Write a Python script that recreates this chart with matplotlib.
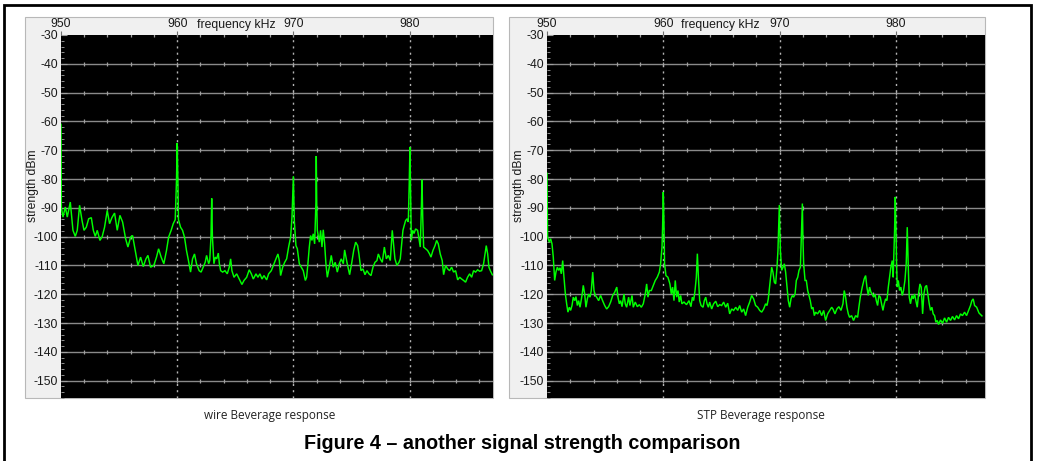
import matplotlib
matplotlib.use("Agg")
import matplotlib.pyplot as plt
from matplotlib.patches import Rectangle

W, H = 1038, 461
DPI = 100

# ---------------- data ----------------
freq_ticks = [950, 960, 970, 980]
dbm_ticks = [-30, -40, -50, -60, -70, -80, -90, -100, -110, -120, -130, -140, -150]

wire_freq = [
    950.00, 950.03, 950.17, 950.37, 950.54, 950.80, 951.03, 951.23, 951.40, 951.60,
    951.81, 951.98, 952.18, 952.38, 952.61, 952.78, 952.95, 953.12, 953.35, 953.55,
    953.75, 953.98, 954.18, 954.38, 954.61, 954.84, 955.07, 955.30, 955.56, 955.76,
    955.99, 956.16, 956.39, 956.62, 956.85, 957.08, 957.31, 957.48, 957.71, 957.99,
    958.22, 958.40, 958.62, 958.85, 959.08, 959.26, 959.48, 959.66, 959.83, 959.94,
    960.00, 960.06, 960.11, 960.29, 960.46, 960.63, 960.80, 960.97, 961.15, 961.32,
    961.49, 961.66, 961.89, 962.06, 962.23, 962.41, 962.53, 962.71, 962.80, 962.91,
    962.97, 963.03, 963.16, 963.28, 963.40, 963.54, 963.63, 963.74, 963.91, 964.11,
    964.31, 964.48, 964.60, 964.71, 964.89, 965.12, 965.34, 965.57, 965.75, 965.98,
    966.20, 966.38, 966.55, 966.78, 966.95, 967.12, 967.30, 967.47, 967.70, 967.87,
    968.10, 968.33, 968.50, 968.67, 968.79, 968.90, 969.08, 969.25, 969.42, 969.59,
    969.76, 969.88, 970.00, 970.08, 970.22, 970.34, 970.51, 970.68, 970.85, 971.03,
    971.14, 971.25, 971.37, 971.48, 971.60, 971.71, 971.83, 971.94, 971.97, 972.01,
    972.06, 972.23, 972.34, 972.46, 972.57, 972.69, 972.80, 972.92, 973.09, 973.26,
    973.43, 973.60, 973.78, 973.95, 974.12, 974.30, 974.41, 974.61, 974.84, 975.01,
    975.19, 975.36, 975.53, 975.64, 975.82, 975.99, 976.16, 976.33, 976.51, 976.68,
    976.85, 977.02, 977.19, 977.31, 977.48, 977.65, 977.83, 978.00, 978.17, 978.34,
    978.51, 978.63, 978.74, 978.91, 979.09, 979.20, 979.32, 979.43, 979.54, 979.66,
    979.78, 979.89, 979.97, 980.03, 980.09, 980.15, 980.27, 980.38, 980.52, 980.69,
    980.81, 980.92, 981.01, 981.07, 981.13, 981.21, 981.38, 981.55, 981.72, 981.84,
    982.01, 982.19, 982.33, 982.47, 982.64, 982.81, 982.93, 983.10, 983.28, 983.45,
    983.62, 983.79, 983.96, 984.14, 984.31, 984.48, 984.65, 984.82, 984.99, 985.17,
    985.34, 985.51, 985.68, 985.86, 986.03, 986.20, 986.37, 986.49, 986.60, 986.72,
    986.83, 986.95, 987.12, 987.30,
]
wire_dbm = [
    -61.0, -90.0, -93.2, -89.7, -93.2, -88.0, -97.8, -99.9, -97.8, -89.1,
    -94.4, -97.8, -96.7, -93.8, -93.4, -97.8, -99.9, -97.8, -101.3, -99.9,
    -96.7, -90.9, -95.5, -93.4, -91.8, -97.8, -92.6, -94.9, -100.7, -103.6,
    -100.2, -99.6, -104.8, -110.0, -107.1, -110.4, -107.7, -106.5, -110.6, -110.0,
    -107.1, -104.2, -107.1, -109.4, -104.8, -100.2, -97.8, -95.5, -94.1, -80.4,
    -67.5, -80.4, -94.1, -96.7, -97.8, -100.2, -104.8, -108.3, -112.3, -107.7,
    -106.0, -109.4, -111.8, -112.3, -110.6, -108.9, -106.5, -109.4, -108.3, -99.9,
    -86.7, -99.9, -109.4, -107.1, -107.7, -105.7, -109.4, -111.8, -112.3, -111.8,
    -112.9, -110.6, -107.7, -111.8, -114.1, -112.9, -114.7, -116.6, -115.2, -114.1,
    -111.5, -112.9, -114.7, -112.9, -114.1, -112.9, -114.7, -113.5, -115.0, -112.9,
    -111.8, -109.4, -107.7, -106.0, -108.3, -113.5, -110.6, -108.9, -107.7, -103.6,
    -100.2, -93.2, -79.0, -94.4, -103.1, -104.2, -109.4, -110.6, -111.8, -115.2,
    -114.1, -109.4, -103.6, -99.6, -101.3, -99.0, -102.5, -88.0, -72.0, -88.0,
    -97.8, -101.9, -97.8, -103.6, -97.6, -102.5, -109.4, -114.1, -110.6, -106.5,
    -110.6, -108.9, -112.3, -109.4, -107.7, -109.4, -104.6, -108.9, -113.2, -109.4,
    -104.8, -101.9, -103.1, -106.0, -111.8, -111.2, -113.2, -111.8, -112.9, -113.5,
    -110.6, -108.9, -108.3, -106.0, -107.7, -108.9, -103.6, -107.7, -106.5, -108.3,
    -97.8, -103.1, -107.7, -110.0, -108.9, -107.7, -102.5, -97.8, -96.1, -94.4,
    -93.8, -94.9, -81.6, -69.0, -86.2, -101.3, -97.8, -98.9, -97.3, -97.8,
    -100.7, -103.6, -90.9, -80.2, -93.1, -103.6, -104.2, -104.8, -106.0, -107.1,
    -104.8, -103.1, -101.3, -102.5, -106.0, -108.3, -113.2, -110.0, -111.2, -111.8,
    -110.6, -112.3, -111.8, -115.0, -114.1, -114.7, -115.2, -115.8, -114.1, -112.9,
    -114.1, -111.8, -112.3, -111.5, -112.0, -111.8, -109.4, -106.0, -103.1, -106.0,
    -110.6, -111.8, -113.2, -113.5,
]

stp_freq = [
    950.00, 950.05, 950.20, 950.31, 950.43, 950.54, 950.66, 950.77, 950.89, 951.00,
    951.12, 951.23, 951.35, 951.46, 951.58, 951.69, 951.80, 951.92, 952.03, 952.15,
    952.26, 952.38, 952.49, 952.61, 952.72, 952.84, 953.01, 953.12, 953.24, 953.35,
    953.47, 953.58, 953.70, 953.81, 953.93, 954.04, 954.15, 954.27, 954.44, 954.61,
    954.78, 954.96, 955.13, 955.30, 955.47, 955.65, 955.82, 956.00, 956.10, 956.22,
    956.33, 956.45, 956.62, 956.73, 956.85, 957.02, 957.13, 957.31, 957.42, 957.59,
    957.77, 957.94, 958.11, 958.28, 958.45, 958.57, 958.68, 958.80, 958.97, 959.14,
    959.31, 959.48, 959.66, 959.77, 959.89, 959.94, 960.00, 960.06, 960.11, 960.23,
    960.40, 960.57, 960.69, 960.80, 960.92, 961.03, 961.15, 961.26, 961.37, 961.49,
    961.60, 961.78, 962.00, 962.21, 962.38, 962.50, 962.61, 962.73, 962.84, 962.93,
    963.02, 963.13, 963.25, 963.42, 963.53, 963.65, 963.76, 963.88, 963.99, 964.16,
    964.33, 964.51, 964.68, 964.85, 965.02, 965.19, 965.37, 965.54, 965.71, 965.88,
    966.05, 966.23, 966.40, 966.57, 966.74, 966.91, 967.08, 967.26, 967.43, 967.60,
    967.77, 967.94, 968.12, 968.29, 968.46, 968.63, 968.80, 968.92, 969.03, 969.20,
    969.32, 969.43, 969.55, 969.66, 969.78, 969.86, 969.98, 970.07, 970.18, 970.30,
    970.41, 970.52, 970.64, 970.75, 970.87, 970.98, 971.10, 971.21, 971.33, 971.44,
    971.56, 971.67, 971.79, 971.87, 971.96, 972.01, 972.07, 972.19, 972.30, 972.42,
    972.53, 972.64, 972.76, 972.87, 972.99, 973.10, 973.27, 973.45, 973.62, 973.79,
    973.96, 974.13, 974.31, 974.48, 974.59, 974.76, 974.93, 975.10, 975.28, 975.45,
    975.56, 975.68, 975.79, 975.91, 976.02, 976.19, 976.36, 976.54, 976.71, 976.82,
    976.94, 977.11, 977.28, 977.40, 977.51, 977.63, 977.74, 977.86, 977.97, 978.09,
    978.20, 978.32, 978.43, 978.54, 978.66, 978.77, 978.89, 979.00, 979.12, 979.23,
    979.35, 979.46, 979.57, 979.69, 979.77, 979.83, 979.89, 979.95, 980.01, 980.06,
    980.12, 980.21, 980.32, 980.43, 980.55, 980.66, 980.78, 980.89, 980.98, 981.06,
    981.15, 981.26, 981.38, 981.49, 981.61, 981.72, 981.84, 981.95, 982.07, 982.18,
    982.30, 982.41, 982.52, 982.64, 982.75, 982.87, 982.98, 983.10, 983.21, 983.33,
    983.44, 983.56, 983.67, 983.84, 984.01, 984.19, 984.36, 984.53, 984.70, 984.87,
    985.05, 985.22, 985.39, 985.56, 985.73, 985.91, 986.08, 986.25, 986.42, 986.54,
    986.65, 986.77, 986.95, 987.15, 987.40,
]
stp_dbm = [
    -78.0, -100.1, -101.9, -100.7, -102.5, -107.1, -115.2, -112.3, -110.6, -111.7,
    -110.8, -112.9, -108.3, -114.1, -119.9, -123.3, -126.2, -124.5, -125.6, -123.9,
    -121.0, -122.2, -120.8, -123.9, -122.2, -124.5, -120.4, -116.9, -119.9, -124.5,
    -121.6, -119.9, -121.0, -118.7, -112.3, -118.7, -120.4, -121.0, -122.2, -120.4,
    -122.2, -123.9, -125.1, -124.3, -122.7, -120.4, -119.3, -117.5, -121.0, -123.3,
    -122.2, -124.3, -119.9, -123.3, -124.5, -121.0, -123.9, -120.4, -124.5, -122.7,
    -124.3, -123.6, -124.5, -123.3, -119.9, -116.4, -121.0, -118.7, -118.7, -116.9,
    -115.2, -114.1, -112.3, -109.4, -103.6, -96.7, -84.5, -95.5, -109.4, -113.5,
    -114.1, -116.4, -119.9, -117.5, -122.2, -115.2, -121.0, -118.7, -122.7, -120.4,
    -123.3, -122.7, -123.6, -122.2, -124.3, -121.0, -122.2, -118.7, -114.1, -105.9,
    -114.1, -122.2, -123.9, -124.5, -122.2, -121.0, -123.3, -124.5, -122.7, -125.1,
    -123.3, -122.4, -124.3, -123.6, -123.9, -122.7, -124.5, -123.1, -126.8, -125.1,
    -125.6, -124.5, -125.6, -123.9, -126.2, -125.1, -127.4, -124.5, -122.7, -120.4,
    -121.6, -123.9, -124.5, -125.6, -126.2, -125.1, -123.3, -123.9, -121.6, -115.2,
    -110.6, -112.3, -115.8, -116.4, -110.6, -104.8, -89.0, -104.8, -111.7, -110.6,
    -109.4, -112.3, -117.5, -122.2, -124.5, -121.6, -120.4, -121.0, -119.9, -115.2,
    -114.1, -111.7, -110.6, -100.7, -88.5, -100.7, -109.4, -115.2, -115.2, -118.7,
    -120.4, -122.2, -125.1, -124.5, -127.4, -126.2, -126.8, -125.6, -127.4, -125.6,
    -129.1, -126.8, -125.6, -124.5, -125.1, -126.8, -125.1, -124.3, -125.6, -123.3,
    -118.7, -121.0, -124.5, -126.8, -128.0, -127.4, -129.1, -127.4, -128.0, -124.5,
    -121.0, -117.5, -114.6, -113.5, -117.5, -120.4, -117.5, -119.3, -119.9, -121.0,
    -119.9, -122.2, -123.9, -120.4, -121.0, -123.3, -125.6, -123.3, -121.6, -122.2,
    -117.5, -114.1, -110.6, -108.3, -114.1, -105.9, -97.8, -86.2, -96.7, -109.4,
    -117.5, -115.2, -118.7, -117.5, -120.4, -118.7, -115.2, -109.4, -96.7, -109.4,
    -121.0, -123.3, -120.4, -121.6, -119.9, -122.2, -124.5, -119.9, -116.4, -117.5,
    -126.8, -119.9, -117.5, -116.9, -119.9, -123.3, -125.6, -124.5, -126.8, -127.4,
    -129.7, -129.1, -130.5, -128.9, -130.1, -128.2, -129.7, -128.0, -129.1, -127.7,
    -128.9, -127.4, -128.5, -126.8, -127.4, -126.2, -127.4, -125.6, -123.9, -122.2,
    -121.6, -123.9, -124.5, -126.5, -127.5,
]

panel_captions = ["wire Beverage response", "STP Beverage response"]
figure_title = "Figure 4 \u2013 another signal strength comparison"
x_label = "frequency kHz"
y_label = "strength dBm"

# ---------------- drawing ----------------
fig = plt.figure(figsize=(W / DPI, H / DPI), dpi=DPI)
fig.patch.set_facecolor("white")


def fx(x):
    return x / W


def fy(y):
    return 1 - y / H


def rect(x0, y0, x1, y1, **kw):
    fig.add_artist(Rectangle((fx(x0), fy(y1)), fx(x1) - fx(x0), fy(y0) - fy(y1),
                             transform=fig.transFigure, **kw))


# outer frame
rect(4, 5, 1031, 475, fill=False, edgecolor="black", lw=2, zorder=5)

TICK_FONT = "Liberation Sans"


def panel(gx0, ax0, ax1, xmax, freq, dbm, caption, cap_x, xlab_x, ylab_x):
    top_gray, top_black, bottom = 17, 35, 398
    rect(gx0, top_gray, ax1, bottom, facecolor="#f0f0f0", edgecolor="#b8b8b8",
         lw=0.8, zorder=-5)
    ax = fig.add_axes([fx(ax0), fy(bottom), fx(ax1) - fx(ax0), fy(top_black) - fy(bottom)])
    ax.set_facecolor("black")
    ax.set_xlim(950, xmax)
    ax.set_ylim(-156, -30)
    for s in ax.spines.values():
        s.set_visible(False)

    # horizontal grid with small crosses every 2 kHz
    minor_x = list(range(952, int(xmax) + 1, 2))
    for yv in dbm_ticks:
        if yv != dbm_ticks[0]:
            ax.axhline(yv, color="#8a8a8a", lw=1.0, zorder=1)
        ax.plot(minor_x, [yv] * len(minor_x), ls="none", marker="|", ms=3.2,
                mew=0.9, color="#a0a0a0", zorder=1)
    for xv in freq_ticks[1:]:
        ax.axvline(xv, color="#b4b4b4", lw=1.0, ls=(0, (1.5, 3)), zorder=1)

    ax.plot(freq, dbm, color="#00ff00", lw=1.05, zorder=3, solid_joinstyle="miter")

    ax.xaxis.tick_top()
    ax.set_xticks(freq_ticks)
    ax.set_xticklabels([str(v) for v in freq_ticks])
    ax.set_yticks(dbm_ticks)
    ax.set_yticklabels([str(v) for v in dbm_ticks])
    ax.set_yticks(list(range(-156, -29, 2)), minor=True)
    ax.tick_params(axis="x", which="major", direction="out", length=3, width=0.8,
                   pad=0.5, labelsize=8.7, color="#707070", labelcolor="#1a1a1a")
    ax.tick_params(axis="y", which="major", direction="in", length=4, width=0.8,
                   pad=2, labelsize=8.7, color="#a0a0a0", labelcolor="#1a1a1a")
    ax.tick_params(axis="y", which="minor", direction="in", length=2.5, width=0.7,
                   color="#909090")
    for lab in ax.get_xticklabels() + ax.get_yticklabels():
        lab.set_fontfamily(TICK_FONT)

    fig.text(fx(xlab_x), fy(25), x_label, ha="center", va="center",
             fontsize=8.8, family=TICK_FONT, color="#1a1a1a")
    fig.text(fx(ylab_x), fy(186), y_label, rotation=90, ha="center", va="center",
             fontsize=8.7, family=TICK_FONT, color="#1a1a1a")
    fig.text(fx(cap_x), fy(416), caption, ha="center", va="center",
             fontsize=8.5, family="Open Sans", color="#222222")
    return ax


panel(25, 61, 493, 987.18, wire_freq, wire_dbm, panel_captions[0], 270, 236, 33)
panel(508.6, 547, 984.7, 987.64, stp_freq, stp_dbm, panel_captions[1], 761, 720, 519)

fig.text(fx(522), fy(443), figure_title, ha="center", va="center",
         fontsize=14.2, fontweight="bold", family="Liberation Sans", color="black")

fig.savefig("out.png", dpi=DPI, facecolor="white")
